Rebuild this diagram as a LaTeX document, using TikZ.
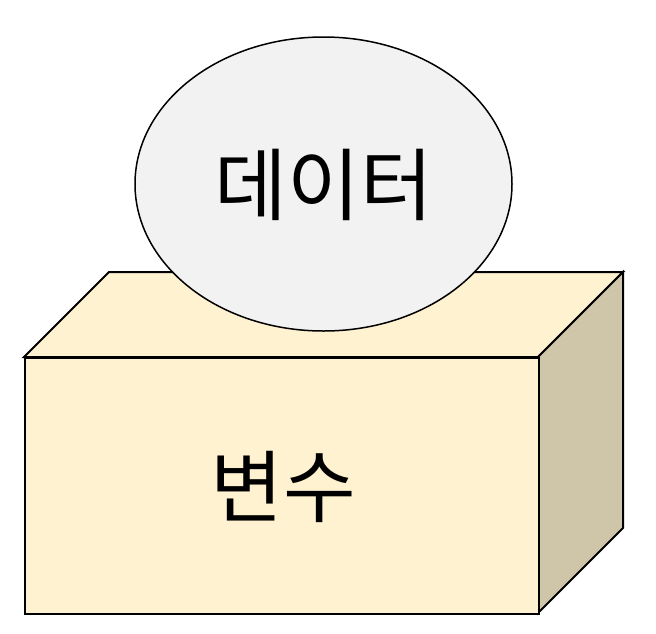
\documentclass[tikz,border=0pt]{standalone}
\usepackage{fontspec}
\newfontfamily\krfont{Noto Sans CJK KR}
\usetikzlibrary{shapes.geometric}
\definecolor{frontc}{HTML}{FFF2D0}
\definecolor{sidec}{HTML}{CFC5A8}
\definecolor{ellc}{HTML}{F2F2F2}
\tikzset{
  face/.style={draw=black, line width=2pt, line join=miter},
  lbl/.style={font=\krfont\fontsize{79}{86}\selectfont, inner sep=0pt},
}
\begin{document}
\begin{tikzpicture}[x=1pt,y=-1pt]
\useasboundingbox (0,0) rectangle (656,633);
% top face
\draw[face, fill=frontc] (24,357) -- (109,272) -- (623,272) -- (538,357) -- cycle;
% right face
\draw[face, fill=sidec] (538,357) -- (623,272) -- (623,528) -- (538,613) -- cycle;
% front face
\node[face, fill=frontc, minimum width=514pt, minimum height=256pt, anchor=north west, inner sep=0pt] (front) at (24,357) {};
\node[lbl] (var) at (283,487) {변수};
% ellipse
\node[ellipse, draw=black, line width=1.5pt, fill=ellc, minimum width=377pt, minimum height=294pt, inner sep=0pt] (data) at (323.5,184) {};
\node[lbl] (datatext) at (324,185) {데이터};
\end{tikzpicture}
\end{document}
